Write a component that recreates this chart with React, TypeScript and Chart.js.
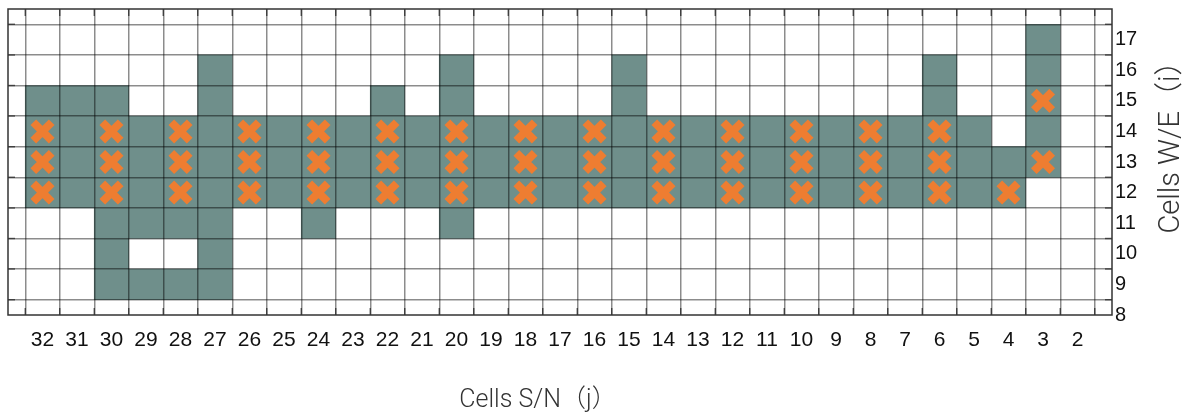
import React, { useEffect, useRef } from "react";
import { Chart, registerables } from "chart.js";

Chart.register(...registerables);

// Column index j (S/N), shown from 32 on the left down to 2 on the right
const colTicks = [2, 3, 4, 5, 6, 7, 8, 9, 10, 11, 12, 13, 14, 15, 16, 17, 18, 19, 20, 21, 22, 23, 24, 25, 26, 27, 28, 29, 30, 31, 32];
// Row index i (W/E)
const rowTicks = [8, 9, 10, 11, 12, 13, 14, 15, 16, 17];

// Occupied cells, one entry per vertical run of filled cells in a column
const runCol = [32, 31, 30, 29, 29, 28, 28, 27, 26, 25, 24, 23, 22, 21, 20, 19, 18, 17, 16, 15, 14, 13, 12, 11, 10, 9, 8, 7, 6, 5, 4, 3];
const runFrom = [12, 12, 9, 9, 11, 9, 11, 9, 12, 12, 11, 12, 12, 12, 11, 12, 12, 12, 12, 12, 12, 12, 12, 12, 12, 12, 12, 12, 12, 12, 12, 13];
const runTo = [15, 15, 15, 9, 14, 9, 14, 16, 14, 14, 14, 14, 15, 14, 16, 14, 14, 14, 14, 16, 14, 14, 14, 14, 14, 14, 14, 14, 16, 14, 13, 17];

// Marked cells (j, i)
const markJ = [32, 32, 32, 30, 30, 30, 28, 28, 28, 26, 26, 26, 24, 24, 24, 22, 22, 22, 20, 20, 20, 18, 18, 18, 16, 16, 16, 14, 14, 14, 12, 12, 12, 10, 10, 10, 8, 8, 8, 6, 6, 6, 4, 3, 3];
const markI = [12, 13, 14, 12, 13, 14, 12, 13, 14, 12, 13, 14, 12, 13, 14, 12, 13, 14, 12, 13, 14, 12, 13, 14, 12, 13, 14, 12, 13, 14, 12, 13, 14, 12, 13, 14, 12, 13, 14, 12, 13, 14, 12, 13, 15];

const xTitle = "Cells S/N（j）";
const yTitle = "Cells W/E（i）";

const tickFont = "'Liberation Sans', Arial, sans-serif";
const titleFont = "Roboto, 'Noto Sans CJK SC', sans-serif";

// Frame around the plotting area with short inward tick marks on every cell edge
const frame = {
  id: "frame",
  afterDraw(chart: any) {
    const { ctx, chartArea: a, scales } = chart;
    const tl = 7;
    ctx.save();
    ctx.strokeStyle = "rgba(0,0,0,0.55)";
    ctx.lineWidth = 1.5;
    ctx.beginPath();
    // cell edges lie half a unit beside each column / row index
    [1].concat(colTicks).forEach((v) => {
      const px = scales.x.getPixelForValue(v + 0.5);
      ctx.moveTo(px, a.top);
      ctx.lineTo(px, a.top + tl);
      ctx.moveTo(px, a.bottom);
      ctx.lineTo(px, a.bottom - tl);
    });
    rowTicks.forEach((v) => {
      const py = scales.y.getPixelForValue(v + 0.5);
      ctx.moveTo(a.left, py);
      ctx.lineTo(a.left + tl, py);
      ctx.moveTo(a.right, py);
      ctx.lineTo(a.right - tl, py);
    });
    ctx.stroke();
    ctx.strokeStyle = "#333";
    ctx.strokeRect(a.left, a.top, a.right - a.left, a.bottom - a.top);
    ctx.restore();
  },
};

// Axis titles: bottom one under the grid, right one reading upward
const axisTitles = {
  id: "axisTitles",
  afterDraw(chart: any) {
    const { ctx, chartArea: a } = chart;
    ctx.save();
    ctx.fillStyle = "#333";
    ctx.textAlign = "center";
    ctx.textBaseline = "middle";
    ctx.font = `300 25px ${titleFont}`;
    ctx.fillText(xTitle, (a.left + a.right) / 2 - 22, a.bottom + 86);
    ctx.translate(a.right + 60, (a.top + a.bottom) / 2 - 22);
    ctx.rotate(-Math.PI / 2);
    ctx.font = `300 29px ${titleFont}`;
    ctx.fillText(yTitle, 0, 0);
    ctx.restore();
  },
};

const noPadding = (s: any) => {
  s.paddingLeft = 0;
  s.paddingRight = 0;
  s.paddingTop = 0;
  s.paddingBottom = 0;
};

export default function App() {
  const ref = useRef<HTMLCanvasElement | null>(null);

  useEffect(() => {
    if (!ref.current) return;
    const chart = new Chart(ref.current, {
      type: "bar",
      data: {
        datasets: [
          {
            type: "scatter",
            data: markJ.map((j, k) => ({ x: j, y: markI[k] })),
            pointStyle: "crossRot",
            radius: 13,
            hoverRadius: 13,
            borderWidth: 8,
            hoverBorderWidth: 8,
            borderColor: "#ee7d31",
            backgroundColor: "#ee7d31",
            order: 1,
          } as any,
          {
            type: "bar",
            data: runCol.map((j, k) => ({ x: j, y: [runFrom[k] - 0.5, runTo[k] + 0.5] })),
            backgroundColor: "#6f8f8b",
            borderWidth: 0,
            categoryPercentage: 1,
            barPercentage: 1,
            order: 2,
          } as any,
        ],
      },
      options: {
        animation: false,
        responsive: true,
        maintainAspectRatio: false,
        layout: { autoPadding: false, padding: { left: 8, top: 9, right: 0, bottom: 0 } },
        events: [],
        plugins: {
          legend: { display: false },
          tooltip: { enabled: false },
          title: { display: false },
        },
        scales: {
          x: {
            type: "linear",
            reverse: true,
            min: 1,
            max: 33,
            offset: false,
            afterBuildTicks: (s: any) => {
              s.ticks = colTicks.map((v) => ({ value: v }));
            },
            afterFit: (s: any) => {
              s.height = 101;
              noPadding(s);
            },
            grid: {
              offset: true,
              color: "rgba(0,0,0,0.45)",
              lineWidth: 1.5,
              drawTicks: false,
              z: 1,
            },
            border: { display: false },
            ticks: {
              color: "#111",
              font: { family: tickFont, size: 21 },
              padding: 13,
              maxRotation: 0,
              autoSkip: false,
              callback: (v: any) => String(v),
            },
          } as any,
          y: {
            type: "linear",
            position: "right",
            min: 8,
            max: 18,
            afterBuildTicks: (s: any) => {
              s.ticks = rowTicks.map((v) => ({ value: v }));
            },
            afterFit: (s: any) => {
              s.width = 92;
              noPadding(s);
            },
            grid: {
              offset: true,
              color: "rgba(0,0,0,0.45)",
              lineWidth: 1.5,
              drawTicks: false,
              z: 1,
            },
            border: { display: false },
            ticks: {
              color: "#111",
              font: { family: tickFont, size: 20 },
              padding: 3,
              autoSkip: false,
              callback: (v: any) => String(v),
            },
          } as any,
        },
      },
      plugins: [frame, axisTitles],
    });
    return () => chart.destroy();
  }, []);

  return (
    <div
      style={{
        position: "fixed",
        left: 0,
        top: 0,
        width: 1204,
        height: 416,
        background: "#fff",
      }}
    >
      <canvas ref={ref} />
    </div>
  );
}
